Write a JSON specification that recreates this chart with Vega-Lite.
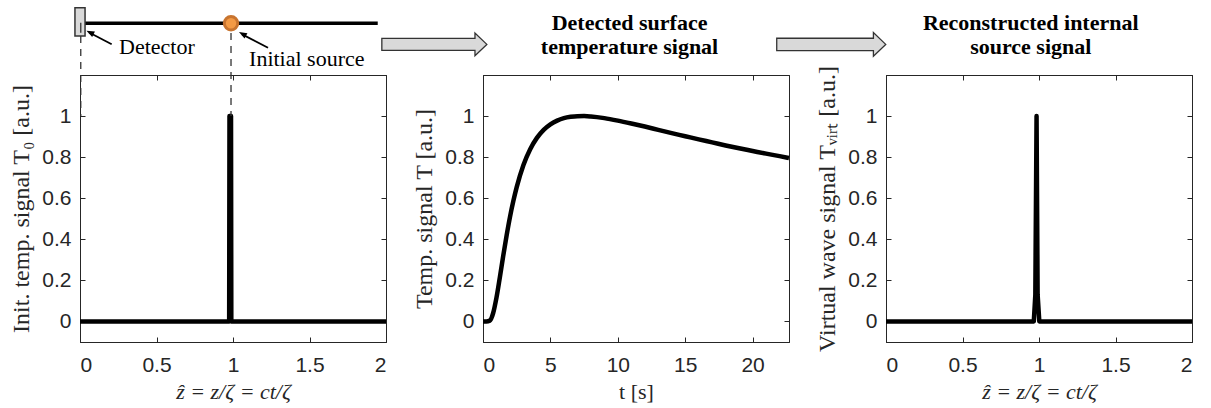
{
  "$schema": "https://vega.github.io/schema/vega-lite/v6.json",
  "background": "white",
  "padding": {"left": 9, "top": 6, "right": 5, "bottom": 2},
  "spacing": 97,
  "bounds": "flush",
  "config": {
    "view": {"stroke": "#262626", "strokeWidth": 1},
    "axis": {
      "grid": false,
      "domainColor": "#262626",
      "domainWidth": 1,
      "tickColor": "#262626",
      "tickSize": -5,
      "tickWidth": 1,
      "labelFont": "Liberation Sans",
      "labelFontSize": 21,
      "labelColor": "#262626",
      "titleFont": "Liberation Serif",
      "titleFontWeight": "normal",
      "titleColor": "#262626"
    },
    "axisX": {"labelPadding": 17, "titlePadding": 6, "titleFontSize": 22},
    "axisY": {"labelPadding": 14, "titlePadding": 8, "titleFontSize": 24}
  },
  "hconcat": [
    {
      "width": 306,
      "height": 267,
      "resolve": {"axis": {"x": "independent", "y": "independent"}},
      "layer": [
        {
          "data": {"values": [
            {"z": 0, "T0": 0},
            {"z": 0.975, "T0": 0},
            {"z": 0.977, "T0": 1},
            {"z": 0.987, "T0": 1},
            {"z": 0.989, "T0": 0},
            {"z": 2, "T0": 0}
          ]},
          "mark": {"type": "line", "color": "black", "strokeWidth": 4.5, "strokeJoin": "round"},
          "encoding": {
            "x": {"field": "z", "type": "quantitative", "scale": {"domain": [0, 2], "nice": false, "zero": false},
                  "axis": {"values": [0, 0.5, 1, 1.5, 2], "format": "~g", "title": "ẑ = z/ζ = ct/ζ", "titleFontStyle": "italic"}},
            "y": {"field": "T0", "type": "quantitative", "scale": {"domain": [-0.1, 1.2], "nice": false, "zero": false},
                  "axis": {"values": [0, 0.2, 0.4, 0.6, 0.8, 1], "format": "~g", "title": "Init. temp. signal T₀ [a.u.]"}}
          }
        },
        {
          "data": {"values": [{}]},
          "mark": {"type": "point", "opacity": 0},
          "encoding": {
            "x": {"datum": 0, "type": "quantitative", "axis": {"orient": "top", "values": [0, 0.5, 1, 1.5, 2], "labels": false, "title": null}},
            "y": {"datum": 0, "type": "quantitative", "axis": {"orient": "right", "values": [0, 0.2, 0.4, 0.6, 0.8, 1], "labels": false, "title": null}}
          }
        },
        {
          "data": {"values": [{}]},
          "mark": {"type": "rule", "color": "#333333", "strokeWidth": 1.3, "strokeDash": [7, 6]},
          "encoding": {
            "x": {"datum": 0.005, "type": "quantitative", "axis": null},
            "y": {"datum": 1.39, "type": "quantitative", "axis": null},
            "y2": {"datum": 1.0}
          }
        },
        {
          "data": {"values": [{}]},
          "mark": {"type": "rule", "color": "#333333", "strokeWidth": 1.3, "strokeDash": [7, 6]},
          "encoding": {
            "x": {"datum": 0.987, "type": "quantitative", "axis": null},
            "y": {"datum": 1.405, "type": "quantitative", "axis": null},
            "y2": {"datum": 1.0}
          }
        },
        {
          "data": {"values": [{}]},
          "mark": {"type": "rule", "color": "black", "strokeWidth": 3.5},
          "encoding": {
            "x": {"datum": 0.033, "type": "quantitative", "axis": null},
            "x2": {"datum": 1.946},
            "y": {"datum": 1.452, "type": "quantitative", "axis": null}
          }
        },
        {
          "data": {"values": [{}]},
          "mark": {"type": "rect", "fill": "#d9d9d9", "stroke": "#333333", "strokeWidth": 1.5},
          "encoding": {
            "x": {"datum": -0.033, "type": "quantitative", "axis": null},
            "x2": {"datum": 0.033},
            "y": {"datum": 1.39, "type": "quantitative", "axis": null},
            "y2": {"datum": 1.528}
          }
        },
        {
          "data": {"values": [{}]},
          "mark": {"type": "rule", "color": "#333333", "strokeWidth": 1.3},
          "encoding": {
            "x": {"datum": 0.005, "type": "quantitative", "axis": null},
            "y": {"datum": 1.406, "type": "quantitative", "axis": null},
            "y2": {"datum": 1.455}
          }
        },
        {
          "data": {"values": [{}]},
          "mark": {"type": "point", "shape": "circle", "filled": true, "fill": "#f39a45", "stroke": "#c8742f", "strokeWidth": 3, "size": 180, "opacity": 1},
          "encoding": {
            "x": {"datum": 0.987, "type": "quantitative", "axis": null},
            "y": {"datum": 1.452, "type": "quantitative", "axis": null}
          }
        },
        {
          "data": {"values": [{}]},
          "mark": {"type": "rule", "color": "black", "strokeWidth": 1.8},
          "encoding": {
            "x": {"datum": 0.207, "type": "quantitative", "axis": null},
            "y": {"datum": 1.35, "type": "quantitative", "axis": null},
            "x2": {"datum": 0.06},
            "y2": {"datum": 1.407}
          }
        },
        {
          "data": {"values": [{}]},
          "mark": {"type": "point", "shape": "M0,0L0.75,2L-0.75,2Z", "filled": true, "color": "black", "size": 64, "angle": 297, "opacity": 1},
          "encoding": {
            "x": {"datum": 0.042, "type": "quantitative", "axis": null},
            "y": {"datum": 1.416, "type": "quantitative", "axis": null}
          }
        },
        {
          "data": {"values": [{}]},
          "mark": {"type": "rule", "color": "black", "strokeWidth": 1.8},
          "encoding": {
            "x": {"datum": 1.229, "type": "quantitative", "axis": null},
            "y": {"datum": 1.333, "type": "quantitative", "axis": null},
            "x2": {"datum": 1.06},
            "y2": {"datum": 1.398}
          }
        },
        {
          "data": {"values": [{}]},
          "mark": {"type": "point", "shape": "M0,0L0.75,2L-0.75,2Z", "filled": true, "color": "black", "size": 64, "angle": 299, "opacity": 1},
          "encoding": {
            "x": {"datum": 1.039, "type": "quantitative", "axis": null},
            "y": {"datum": 1.409, "type": "quantitative", "axis": null}
          }
        },
        {
          "data": {"values": [{}]},
          "mark": {"type": "text", "text": "Detector", "font": "Liberation Serif", "fontSize": 22, "color": "black", "align": "left", "baseline": "alphabetic"},
          "encoding": {
            "x": {"datum": 0.255, "type": "quantitative", "axis": null},
            "y": {"datum": 1.301, "type": "quantitative", "axis": null}
          }
        },
        {
          "data": {"values": [{}]},
          "mark": {"type": "text", "text": "Initial source", "font": "Liberation Serif", "fontSize": 22, "color": "black", "align": "left", "baseline": "alphabetic"},
          "encoding": {
            "x": {"datum": 1.105, "type": "quantitative", "axis": null},
            "y": {"datum": 1.244, "type": "quantitative", "axis": null}
          }
        }
      ]
    },
    {
      "width": 306,
      "height": 267,
      "resolve": {"axis": {"x": "independent", "y": "independent"}},
      "layer": [
        {
          "data": {"values": [
            {"t": 0, "T": 0}, {"t": 0.25, "T": 0}, {"t": 0.5, "T": 0.004}, {"t": 0.75, "T": 0.04},
            {"t": 1, "T": 0.116}, {"t": 1.25, "T": 0.215}, {"t": 1.5, "T": 0.319}, {"t": 1.75, "T": 0.418},
            {"t": 2, "T": 0.508}, {"t": 2.25, "T": 0.586}, {"t": 2.5, "T": 0.654}, {"t": 3, "T": 0.762},
            {"t": 3.5, "T": 0.839}, {"t": 4, "T": 0.894}, {"t": 4.5, "T": 0.933}, {"t": 5, "T": 0.96},
            {"t": 5.5, "T": 0.978}, {"t": 6, "T": 0.99}, {"t": 6.5, "T": 0.9965}, {"t": 7, "T": 0.9996},
            {"t": 7.5, "T": 0.9998}, {"t": 8, "T": 0.998}, {"t": 9, "T": 0.99}, {"t": 10, "T": 0.978},
            {"t": 11, "T": 0.964}, {"t": 12, "T": 0.949}, {"t": 13, "T": 0.933}, {"t": 14, "T": 0.917},
            {"t": 15, "T": 0.902}, {"t": 16, "T": 0.8865}, {"t": 17, "T": 0.872}, {"t": 18, "T": 0.857},
            {"t": 19, "T": 0.843}, {"t": 20, "T": 0.83}, {"t": 21, "T": 0.817}, {"t": 22, "T": 0.805},
            {"t": 22.7, "T": 0.796}
          ]},
          "mark": {"type": "line", "color": "black", "strokeWidth": 4.5, "strokeJoin": "round", "interpolate": "monotone"},
          "encoding": {
            "x": {"field": "t", "type": "quantitative", "scale": {"domain": [0, 22.7], "nice": false, "zero": false},
                  "axis": {"values": [0, 5, 10, 15, 20], "format": "~g", "title": "t [s]"}},
            "y": {"field": "T", "type": "quantitative", "scale": {"domain": [-0.1, 1.2], "nice": false, "zero": false},
                  "axis": {"values": [0, 0.2, 0.4, 0.6, 0.8, 1], "format": "~g", "title": "Temp. signal T [a.u.]"}}
          }
        },
        {
          "data": {"values": [{}]},
          "mark": {"type": "point", "opacity": 0},
          "encoding": {
            "x": {"datum": 0, "type": "quantitative", "axis": {"orient": "top", "values": [0, 5, 10, 15, 20], "labels": false, "title": null}},
            "y": {"datum": 0, "type": "quantitative", "axis": {"orient": "right", "values": [0, 0.2, 0.4, 0.6, 0.8, 1], "labels": false, "title": null}}
          }
        },
        {
          "data": {"values": [{}]},
          "mark": {"type": "point", "shape": "M-1,-0.113L0.774,-0.113L0.774,-0.217L1,0L0.774,0.217L0.774,0.113L-1,0.113Z", "filled": true, "fill": "#d9d9d9", "stroke": "#333333", "strokeWidth": 1.3, "size": 11025, "opacity": 1},
          "encoding": {
            "x": {"datum": -3.61, "type": "quantitative", "axis": null},
            "y": {"datum": 1.349, "type": "quantitative", "axis": null}
          }
        },
        {
          "data": {"values": [{}]},
          "mark": {"type": "text", "text": ["Detected surface", "temperature signal"], "font": "Liberation Serif", "fontWeight": "bold", "fontSize": 22, "lineHeight": 24, "color": "black", "align": "center", "baseline": "alphabetic"},
          "encoding": {
            "x": {"datum": 10.87, "type": "quantitative", "axis": null},
            "y": {"datum": 1.419, "type": "quantitative", "axis": null}
          }
        }
      ]
    },
    {
      "width": 306,
      "height": 267,
      "resolve": {"axis": {"x": "independent", "y": "independent"}},
      "layer": [
        {
          "data": {"values": [
            {"z": 0, "Tv": 0},
            {"z": 0.966, "Tv": 0},
            {"z": 0.976, "Tv": 0.13},
            {"z": 0.984, "Tv": 1},
            {"z": 0.991, "Tv": 0.13},
            {"z": 1.002, "Tv": 0},
            {"z": 2, "Tv": 0}
          ]},
          "mark": {"type": "line", "color": "black", "strokeWidth": 4.5, "strokeJoin": "round"},
          "encoding": {
            "x": {"field": "z", "type": "quantitative", "scale": {"domain": [0, 2], "nice": false, "zero": false},
                  "axis": {"values": [0, 0.5, 1, 1.5, 2], "format": "~g", "title": "ẑ = z/ζ = ct/ζ", "titleFontStyle": "italic"}},
            "y": {"field": "Tv", "type": "quantitative", "scale": {"domain": [-0.1, 1.2], "nice": false, "zero": false},
                  "axis": {"values": [0, 0.2, 0.4, 0.6, 0.8, 1], "format": "~g", "title": "Virtual wave signal Tᵥᵢᵣₜ [a.u.]"}}
          }
        },
        {
          "data": {"values": [{}]},
          "mark": {"type": "point", "opacity": 0},
          "encoding": {
            "x": {"datum": 0, "type": "quantitative", "axis": {"orient": "top", "values": [0, 0.5, 1, 1.5, 2], "labels": false, "title": null}},
            "y": {"datum": 0, "type": "quantitative", "axis": {"orient": "right", "values": [0, 0.2, 0.4, 0.6, 0.8, 1], "labels": false, "title": null}}
          }
        },
        {
          "data": {"values": [{}]},
          "mark": {"type": "point", "shape": "M-1,-0.113L0.774,-0.113L0.774,-0.217L1,0L0.774,0.217L0.774,0.113L-1,0.113Z", "filled": true, "fill": "#d9d9d9", "stroke": "#333333", "strokeWidth": 1.3, "size": 11881, "opacity": 1},
          "encoding": {
            "x": {"datum": -0.358, "type": "quantitative", "axis": null},
            "y": {"datum": 1.349, "type": "quantitative", "axis": null}
          }
        },
        {
          "data": {"values": [{}]},
          "mark": {"type": "text", "text": ["Reconstructed internal", "source signal"], "font": "Liberation Serif", "fontWeight": "bold", "fontSize": 22, "lineHeight": 24, "color": "black", "align": "center", "baseline": "alphabetic"},
          "encoding": {
            "x": {"datum": 0.946, "type": "quantitative", "axis": null},
            "y": {"datum": 1.419, "type": "quantitative", "axis": null}
          }
        }
      ]
    }
  ]
}
